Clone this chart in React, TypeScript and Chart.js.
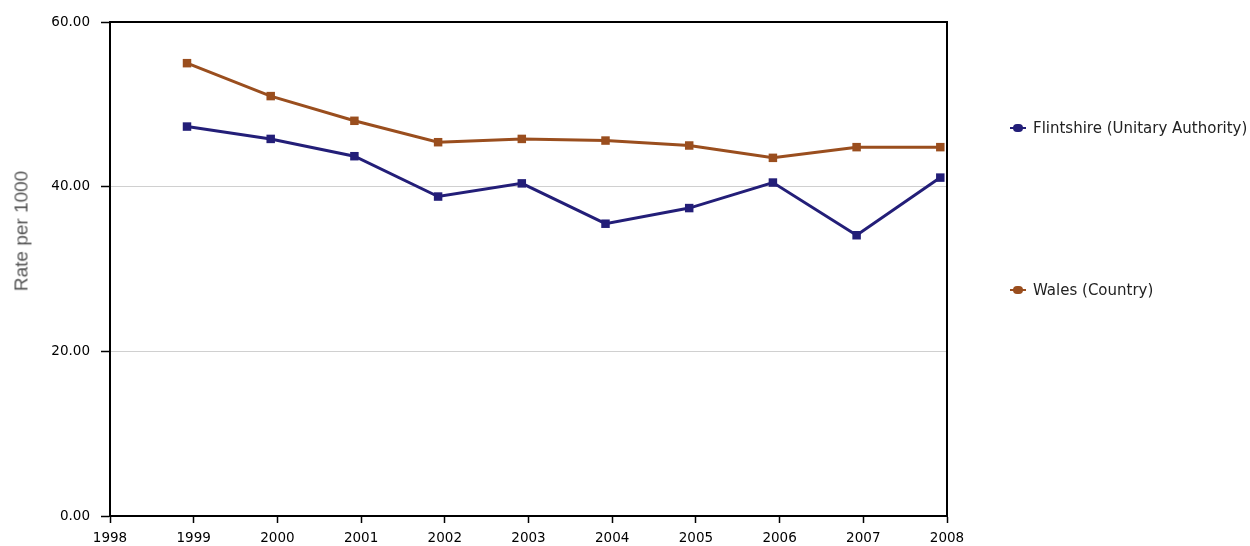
import React, { useEffect, useRef } from "react";
import { Chart, registerables } from "chart.js";

Chart.register(...registerables);

// Data
const yearTicks = [1998, 1999, 2000, 2001, 2002, 2003, 2004, 2005, 2006, 2007, 2008];
const pointYears = [1998.92, 1999.92, 2000.92, 2001.92, 2002.92, 2003.92, 2004.92, 2005.92, 2006.92, 2007.92];
const flintshire = [47.3, 45.8, 43.7, 38.8, 40.4, 35.5, 37.4, 40.5, 34.1, 41.1];
const wales = [55.0, 51.0, 48.0, 45.4, 45.8, 45.6, 45.0, 43.5, 44.8, 44.8];
const seriesNames = ["Flintshire (Unitary Authority)", "Wales (Country)"];
const seriesColors = ["#231e78", "#9a4e1e"];
const yTickValues = [0, 20, 40, 60];
const yAxisTitle = "Rate per 1000";

const frameBorder = {
  id: "frameBorder",
  afterDraw(chart: any) {
    const { ctx, chartArea } = chart;
    ctx.save();
    ctx.strokeStyle = "#000";
    ctx.lineWidth = 2;
    ctx.beginPath();
    ctx.moveTo(chartArea.left, chartArea.top);
    ctx.lineTo(chartArea.right, chartArea.top);
    ctx.lineTo(chartArea.right, chartArea.bottom);
    ctx.stroke();
    ctx.restore();
  },
};

export default function App() {
  const ref = useRef<HTMLCanvasElement>(null);
  useEffect(() => {
    if (!ref.current) return;
    const mk = (vals: number[]) => vals.map((v, i) => ({ x: pointYears[i], y: v }));
    const chart = new Chart(ref.current, {
      type: "line",
      data: {
        datasets: [flintshire, wales].map((vals, i) => ({
          label: seriesNames[i],
          data: mk(vals),
          borderColor: seriesColors[i],
          backgroundColor: seriesColors[i],
          borderWidth: 3,
          pointStyle: "rect",
          pointRadius: 6,
          pointBorderWidth: 0,
          tension: 0,
        })),
      },
      options: {
        animation: false,
        responsive: false,
        devicePixelRatio: 1,
        layout: { padding: { top: 22, right: 303, left: 0, bottom: 0 } },
        plugins: { legend: { display: false }, tooltip: { enabled: false } },
        scales: {
          x: {
            type: "linear",
            min: 1998,
            max: 2008,
            afterBuildTicks: (s: any) => {
              s.ticks = yearTicks.map((v) => ({ value: v }));
            },
            afterFit: (s: any) => {
              s.height = 30;
            },
            border: { display: true, color: "#000", width: 2 },
            grid: { drawOnChartArea: false, tickLength: 7, tickColor: "#000", tickWidth: 1.5 },
            ticks: {
              color: "#000",
              font: { family: "DejaVu Sans", size: 13.5 },
              padding: 7,
              maxRotation: 0,
              callback: (v: any) => String(v),
            },
          },
          y: {
            min: 0,
            max: 60,
            afterBuildTicks: (s: any) => {
              s.ticks = yTickValues.map((v) => ({ value: v }));
            },
            afterFit: (s: any) => {
              s.width = 110;
            },
            border: { display: true, color: "#000", width: 2 },
            grid: { color: "#d0d0d0", lineWidth: 1, tickLength: 9, tickColor: "#000", tickWidth: 1.5 },
            ticks: {
              color: "#000",
              font: { family: "DejaVu Sans", size: 13.5 },
              padding: 11,
              callback: (v: any) => Number(v).toFixed(2),
            },
          },
        },
      },
      plugins: [frameBorder],
    });
    return () => chart.destroy();
  }, []);

  const legendTops = [128, 290];
  return (
    <div style={{ position: "absolute", left: 0, top: 0, width: 1250, height: 546, background: "#fff" }}>
      <canvas ref={ref} width={1250} height={546} style={{ display: "block" }} />
      <div
        style={{
          position: "absolute",
          left: 21,
          top: 231,
          transform: "translate(-50%, -50%) rotate(-90deg)",
          fontFamily: "Liberation Sans",
          fontSize: 19,
          color: "#555",
          whiteSpace: "nowrap",
          lineHeight: 1,
        }}
      >
        {yAxisTitle}
      </div>
      {seriesNames.map((n, i) => (
        <div
          key={n}
          style={{
            position: "absolute",
            left: 1010,
            top: legendTops[i] - 10,
            height: 20,
            display: "flex",
            alignItems: "center",
            fontFamily: "DejaVu Sans",
            fontSize: 15,
            color: "#222",
            whiteSpace: "nowrap",
          }}
        >
          <span style={{ position: "relative", width: 16, height: 8, marginRight: 7, display: "inline-block" }}>
            <span style={{ position: "absolute", left: 0, top: 3, width: 16, height: 2, background: seriesColors[i] }} />
            <span style={{ position: "absolute", left: 3, top: 0, width: 10, height: 8, borderRadius: 4, background: seriesColors[i] }} />
          </span>
          {n}
        </div>
      ))}
    </div>
  );
}
